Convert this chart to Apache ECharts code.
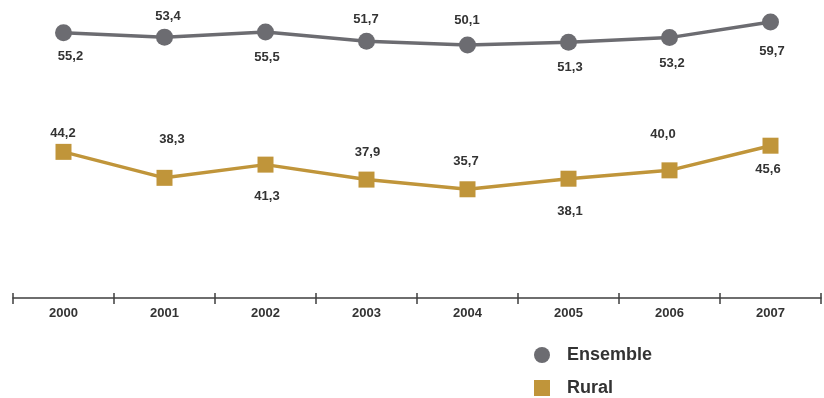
<!DOCTYPE html>
<html>
<head>
<meta charset="utf-8">
<script src="https://cdn.jsdelivr.net/npm/echarts@6/dist/echarts.min.js"></script>
<style>
  html, body { margin: 0; padding: 0; background: #ffffff; }
  #chart { width: 824px; height: 398px; }
</style>
</head>
<body>
<div id="chart"></div>
<script>
// Years on the horizontal axis
const years = ['2000', '2001', '2002', '2003', '2004', '2005', '2006', '2007'];

// Series values
const ensemble = [55.2, 53.4, 55.5, 51.7, 50.1, 51.3, 53.2, 59.7];
const rural = [44.2, 38.3, 41.3, 37.9, 35.7, 38.1, 40.0, 45.6];

// Label nudges [dx, dy] relative to each marker
const ensembleLabelOffset = [[7, 24], [3.5, -21], [1.5, 25], [-0.5, -22], [-0.5, -25], [1.5, 25.5], [2.5, 25.5], [1.5, 29.5]];
const ruralLabelOffset = [[-0.5, -18.5], [7.5, -38], [1.5, 31.5], [1, -27], [-1.5, -27.5], [1.5, 33], [-6.5, -35.5], [-2.5, 23.5]];

const GREY = '#6c6c71';
const GOLD = '#c0953a';
const AXIS = '#3f3f3f';
const FONT = '"Liberation Sans", Arial, sans-serif';

const fmt = p => p.value.toFixed(1).replace('.', ',');

const labelStyle = {
  show: true,
  position: 'inside',
  align: 'center',
  verticalAlign: 'middle',
  color: '#333333',
  fontFamily: FONT,
  fontSize: 13,
  fontWeight: 'bold',
  formatter: fmt
};

const legendBase = {
  orient: 'vertical',
  left: 534,
  padding: 0,
  itemWidth: 16,
  itemHeight: 16,
  selectedMode: false,
  textStyle: { color: '#333333', fontFamily: FONT, fontSize: 18, fontWeight: 'bold', padding: [0, 0, 0, 12] }
};

const chart = echarts.init(document.getElementById('chart'), null, { renderer: 'canvas' });

chart.setOption({
  animation: false,
  backgroundColor: '#ffffff',
  grid: { left: 13, right: 3, top: 0, bottom: 100, containLabel: false },
  xAxis: [
    {
      type: 'category',
      data: years,
      boundaryGap: true,
      axisLine: { show: true, onZero: false, lineStyle: { color: AXIS, width: 1.5 } },
      axisTick: { show: true, length: 6, lineStyle: { color: AXIS, width: 1.5 } },
      axisLabel: { color: '#333333', fontFamily: FONT, fontSize: 13, fontWeight: 'bold', margin: 9 },
      splitLine: { show: false }
    },
    {
      // upper half of the crossing tick marks
      type: 'category',
      data: years,
      position: 'bottom',
      boundaryGap: true,
      axisLine: { show: false, onZero: false },
      axisTick: { show: true, inside: true, length: 5, lineStyle: { color: AXIS, width: 1.5 } },
      axisLabel: { show: false },
      splitLine: { show: false }
    }
  ],
  yAxis: [
    { type: 'value', show: false, min: -55.5, max: 68.9, splitLine: { show: false } },
    { type: 'value', show: false, min: 11.0, max: 78.7, splitLine: { show: false } }
  ],
  legend: [
    Object.assign({}, legendBase, { top: 346, data: [{ name: 'Ensemble', icon: 'circle' }] }),
    Object.assign({}, legendBase, { top: 379, data: [{ name: 'Rural', icon: 'rect' }] })
  ],
  series: [
    {
      name: 'Ensemble',
      type: 'line',
      xAxisIndex: 0,
      yAxisIndex: 0,
      symbol: 'circle',
      symbolSize: 17,
      lineStyle: { color: GREY, width: 3.5 },
      itemStyle: { color: GREY },
      label: labelStyle,
      z: 3,
      data: ensemble.map((v, i) => ({ value: v, label: { offset: ensembleLabelOffset[i] } }))
    },
    {
      name: 'Rural',
      type: 'line',
      xAxisIndex: 0,
      yAxisIndex: 1,
      symbol: 'rect',
      symbolSize: 16,
      lineStyle: { color: GOLD, width: 3.5 },
      itemStyle: { color: GOLD },
      label: labelStyle,
      z: 3,
      data: rural.map((v, i) => ({ value: v, label: { offset: ruralLabelOffset[i] } }))
    }
  ]
});
</script>
</body>
</html>
